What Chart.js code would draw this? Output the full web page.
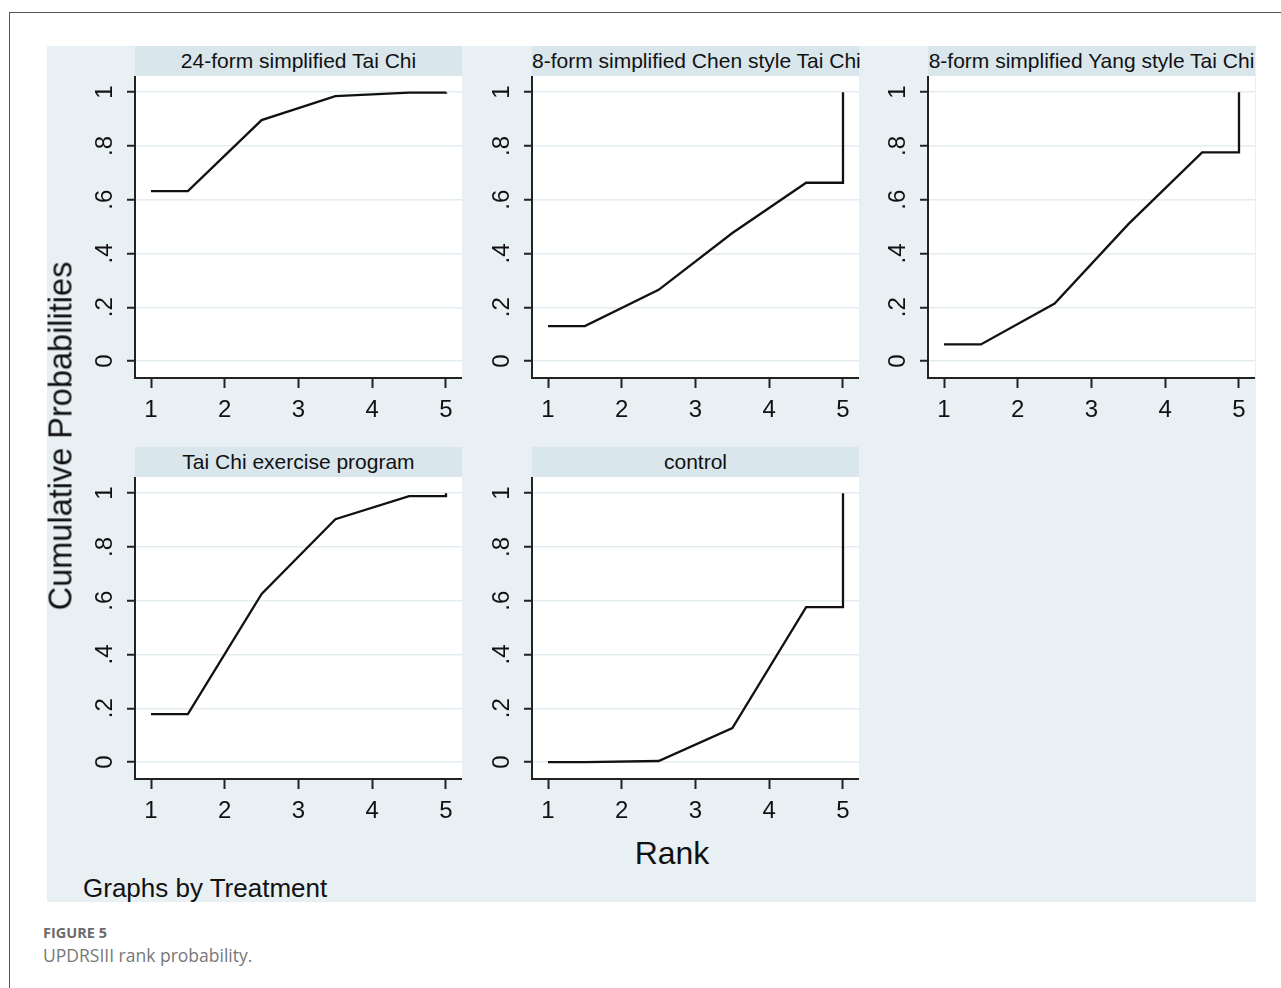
<!DOCTYPE html>
<html>
<head>
<meta charset="utf-8">
<script src="https://cdn.jsdelivr.net/npm/chart.js@4.4.1/dist/chart.umd.min.js"></script>
<style>
  html, body { margin: 0; padding: 0; background: #ffffff; }
  body { width: 1281px; height: 988px; position: relative; overflow: hidden; font-family: 'Liberation Sans', Arial, sans-serif; }
  .frame-top { position: absolute; left: 9px; top: 12px; width: 1272px; height: 1px; background: #555; }
  .frame-left { position: absolute; left: 9px; top: 12px; width: 1px; height: 976px; background: #555; }
  .bg { position: absolute; left: 47px; top: 46px; width: 1209px; height: 856px; background: #e8f0f3; }
  .hdr { position: absolute; height: 30px; background: #d9e6ec; color: #111; font-size: 21px; line-height: 30px; text-align: center; white-space: nowrap; }
  .pnl { position: absolute; }
  .ytitle { position: absolute; left: 61px; top: 436px; transform: translate(-50%, -50%) rotate(-90deg); font-size: 32.5px; color: #111; white-space: nowrap; }
  .xtitle { position: absolute; left: 672px; top: 853px; transform: translate(-50%, -50%); font-size: 32px; color: #111; }
  .note { position: absolute; left: 83px; top: 873px; font-size: 26px; color: #111; white-space: nowrap; }
  .figlab { position: absolute; left: 43px; top: 923px; font-family: 'Open Sans', Lato, sans-serif; font-weight: bold; font-size: 14.5px; color: #6b6b6b; }
  .figcap { position: absolute; left: 43px; top: 943px; font-family: 'Open Sans', Lato, sans-serif; font-size: 17.5px; color: #777; }
</style>
</head>
<body>
<div class="frame-top"></div>
<div class="frame-left"></div>
<div class="bg"></div>
<div id="root"></div>
<div class="ytitle">Cumulative Probabilities</div>
<div class="xtitle">Rank</div>
<div class="note">Graphs by Treatment</div>
<div class="figlab">FIGURE 5</div>
<div class="figcap">UPDRSIII rank probability.</div>
<script>
// ---- data ----
const treatments = [
  '24-form simplified Tai Chi',
  '8-form simplified Chen style Tai Chi',
  '8-form simplified Yang style Tai Chi',
  'Tai Chi exercise program',
  'control'
];
const ranks = [1, 2, 3, 4, 5];
const cum24form   = [0.632, 0.896, 0.985, 0.998, 1.0];
const cumChen8    = [0.130, 0.265, 0.476, 0.663, 1.0];
const cumYang8    = [0.062, 0.214, 0.509, 0.776, 1.0];
const cumTaiChiEx = [0.178, 0.625, 0.903, 0.989, 1.0];
const cumControl  = [0.000, 0.004, 0.126, 0.576, 1.0];
const xTicks = [1, 2, 3, 4, 5];
const yTicks = [0, 0.2, 0.4, 0.6, 0.8, 1];
const yTickLabels = ['0', '.2', '.4', '.6', '.8', '1'];

const series = [cum24form, cumChen8, cumYang8, cumTaiChiEx, cumControl];

// ---- layout (panel plot-area positions) ----
const plotW = 327, plotH = 302, yAxisW = 60, xAxisH = 52;
const panelPos = [
  { left: 135, top: 76 }, { left: 532, top: 76 }, { left: 928, top: 76 },
  { left: 135, top: 477 }, { left: 532, top: 477 }
];

// Stata-style cumulative rank curve vertices built from the cumulative probabilities
function buildPoints(p) {
  const pts = [{ x: ranks[0], y: p[0] }];
  for (let i = 0; i < p.length - 1; i++) pts.push({ x: ranks[i] + 0.5, y: p[i] });
  pts.push({ x: ranks[ranks.length - 1], y: p[p.length - 2] });
  pts.push({ x: ranks[ranks.length - 1], y: p[p.length - 1] });
  return pts;
}

const whiteArea = {
  id: 'whiteArea',
  beforeDraw(chart) {
    const a = chart.chartArea, ctx = chart.ctx;
    ctx.save(); ctx.fillStyle = '#ffffff';
    ctx.fillRect(a.left, a.top, a.right - a.left, a.bottom - a.top);
    ctx.restore();
  }
};

function noPad(s) { s.paddingTop = 0; s.paddingBottom = 0; s.paddingLeft = 0; s.paddingRight = 0; }

const FONT = "'Liberation Sans', Arial, sans-serif";
const root = document.getElementById('root');

treatments.forEach((name, i) => {
  const pos = panelPos[i];
  const hdr = document.createElement('div');
  hdr.className = 'hdr';
  hdr.style.left = pos.left + 'px';
  hdr.style.top = (pos.top - 30) + 'px';
  hdr.style.width = plotW + 'px';
  hdr.textContent = name;
  root.appendChild(hdr);

  const wrap = document.createElement('div');
  wrap.className = 'pnl';
  wrap.style.left = (pos.left - yAxisW) + 'px';
  wrap.style.top = pos.top + 'px';
  const cv = document.createElement('canvas');
  cv.width = yAxisW + plotW;
  cv.height = plotH + xAxisH;
  wrap.appendChild(cv);
  root.appendChild(wrap);

  new Chart(cv, {
    type: 'scatter',
    data: {
      datasets: [{
        data: buildPoints(series[i]),
        showLine: true,
        borderColor: '#111111',
        borderWidth: 2.3,
        pointRadius: 0,
        tension: 0,
        fill: false
      }]
    },
    options: {
      responsive: false,
      animation: false,
      events: [],
      layout: { padding: 0 },
      plugins: { legend: { display: false }, tooltip: { enabled: false }, title: { display: false } },
      scales: {
        x: {
          type: 'linear', position: 'bottom', min: 0.783, max: 5.217,
          afterBuildTicks: s => { s.ticks = xTicks.map(v => ({ value: v })); },
          afterFit: s => { s.height = xAxisH; noPad(s); },
          ticks: { font: { family: FONT, size: 24 }, color: '#111', padding: 8, maxRotation: 0, minRotation: 0 },
          grid: { drawOnChartArea: false, tickLength: 10, tickColor: '#222', tickWidth: 2 },
          border: { display: true, color: '#222', width: 2 }
        },
        y: {
          type: 'linear', position: 'left', min: -0.063, max: 1.06,
          afterBuildTicks: s => { s.ticks = yTicks.map(v => ({ value: v })); },
          afterFit: s => { s.width = yAxisW; noPad(s); },
          ticks: {
            font: { family: FONT, size: 24 }, color: '#111', padding: 12,
            minRotation: 90, maxRotation: 90, crossAlign: 'center',
            callback: (v) => { const k = yTicks.indexOf(v); return k >= 0 ? yTickLabels[k] : ''; }
          },
          grid: { drawOnChartArea: true, color: '#e3ecef', lineWidth: 1.5, tickLength: 8, tickColor: '#222', tickWidth: 2 },
          border: { display: true, color: '#222', width: 2 }
        }
      }
    },
    plugins: [whiteArea]
  });
});
</script>
</body>
</html>
